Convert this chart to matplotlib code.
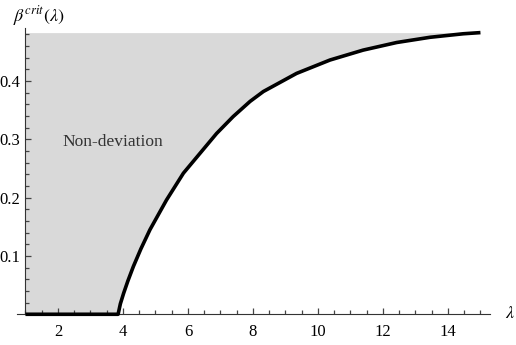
import numpy as np
import matplotlib.pyplot as plt
from matplotlib.ticker import MultipleLocator

plt.rcParams['font.family'] = 'Liberation Serif'
plt.rcParams['mathtext.fontset'] = 'stix'

# values
lam = [1.0, 3.85, 3.92, 4.02, 4.15, 4.32, 4.55, 4.83, 5.34, 5.86, 6.37, 6.88, 7.39, 7.91,
       8.32, 9.34, 10.37, 11.39, 12.42, 13.45, 14.47, 15.0]
beta = [0.0, 0.0, 0.018, 0.036, 0.057, 0.082, 0.112, 0.145, 0.196, 0.242, 0.276, 0.310, 0.339, 0.365,
        0.382, 0.413, 0.436, 0.453, 0.466, 0.475, 0.481, 0.483]
x_ticks = [2, 4, 6, 8, 10, 12, 14]
y_ticks = [0.1, 0.2, 0.3, 0.4]
region_label = 'Non-deviation'

fig = plt.figure(figsize=(5.16, 3.45), dpi=100)
ax = fig.add_axes([0.033, 0.0806, 0.917, 0.8384])

top = max(beta)
ax.fill_between(lam, beta, top, color='#d9d9d9', lw=0, zorder=0)
ax.plot(lam, beta, color='black', lw=2.6, solid_capstyle='butt', solid_joinstyle='round', zorder=3)

ax.set_xlim(0.74, 15.3)
ax.set_ylim(-0.005, 0.491)

for s in ['top', 'right']:
    ax.spines[s].set_visible(False)
ax.spines['left'].set_position(('data', 1))
ax.spines['bottom'].set_position(('data', 0))
for s in ['left', 'bottom']:
    ax.spines[s].set_color('#333333')
    ax.spines[s].set_linewidth(0.8)
ax.spines['left'].set_bounds(0, 0.491)

ax.set_xticks(x_ticks)
ax.set_yticks(y_ticks)
ax.set_yticklabels([str(v) for v in y_ticks])
ax.xaxis.set_minor_locator(MultipleLocator(0.5))
ax.yaxis.set_minor_locator(MultipleLocator(0.02))
ax.tick_params(which='both', direction='in', color='#444444', width=0.9, labelsize=12)
ax.tick_params(which='major', length=4)
ax.tick_params(which='minor', length=2.6)
ax.tick_params(axis='x', pad=7)
ax.tick_params(axis='y', pad=4)

ax.text(3.69, 0.296, region_label, fontsize=12.5, ha='center', va='center', color='#333333')

fig.text(0.025, 0.955, r'$\beta^{crit}(\lambda)$', fontsize=13, ha='left', va='center')
fig.text(0.988, 0.092, r'$\lambda$', fontsize=13, ha='center', va='center')

fig.savefig('out.png', dpi=100)
